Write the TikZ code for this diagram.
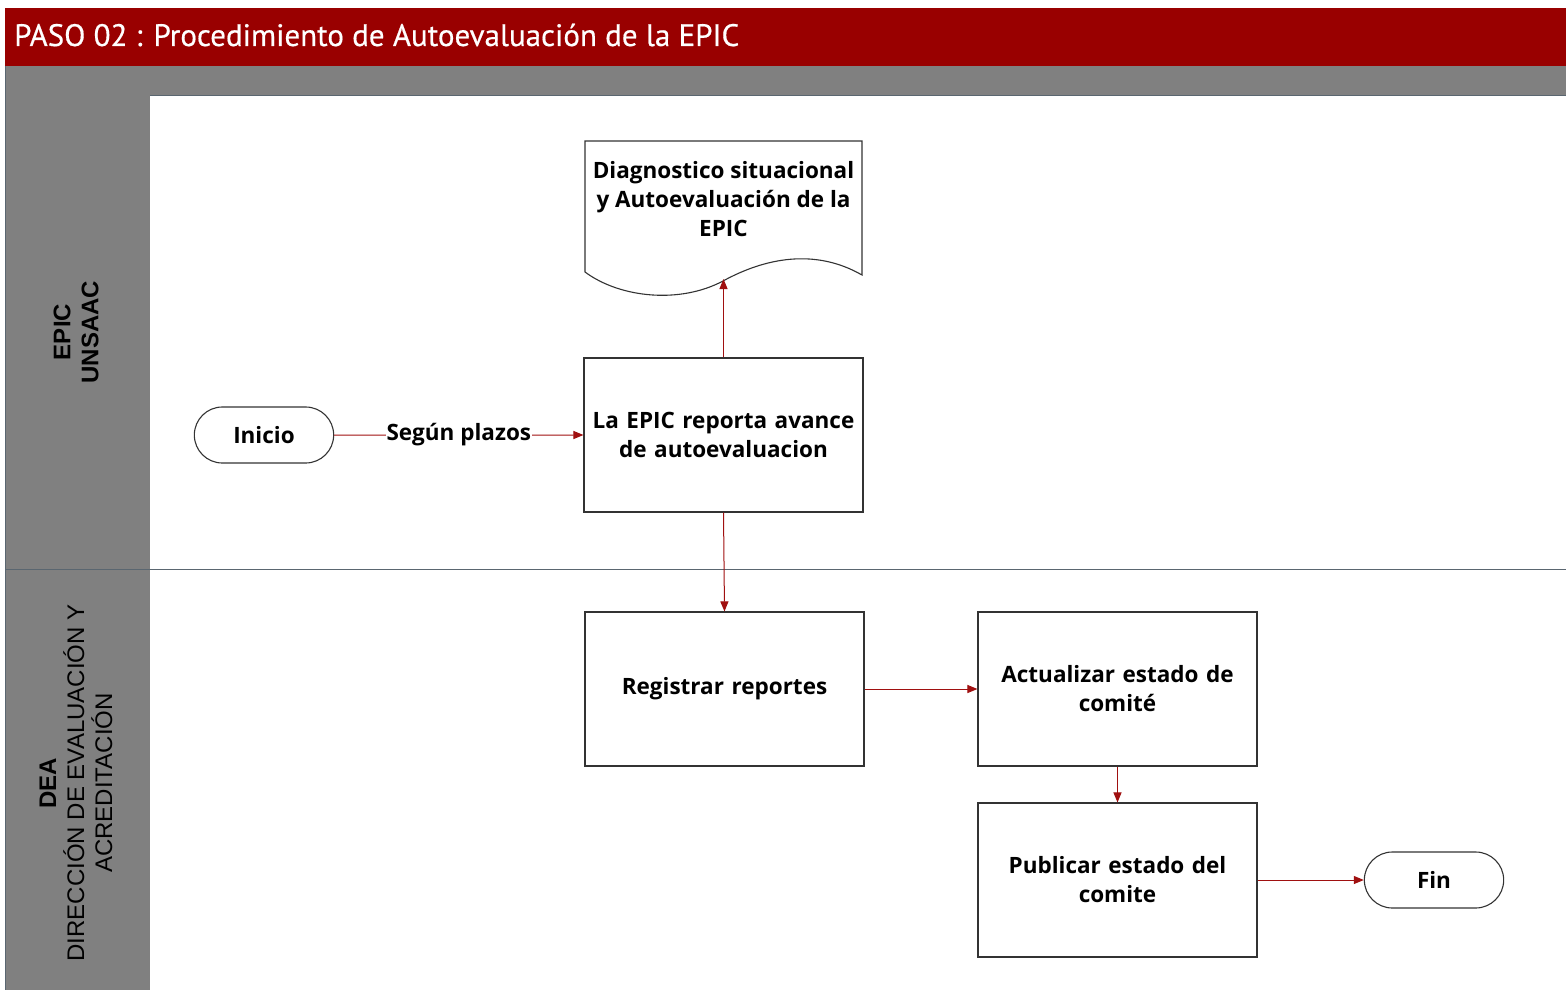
\documentclass[tikz,border=0pt]{standalone}
\usepackage{fontspec}
\setmainfont{Open Sans}
\newfontfamily\titlefont{PT Sans}[FakeBold=0.5]
\newfontfamily\lanefont{Liberation Sans}
\usetikzlibrary{arrows.meta,shapes.misc}
\definecolor{hdred}{HTML}{990000}
\definecolor{lanegray}{HTML}{808080}
\definecolor{arrred}{HTML}{A01010}
\definecolor{divline}{HTML}{5A6670}
\begin{document}
\begin{tikzpicture}[x=1pt,y=-1pt,
  procbox/.style={draw=black!80,line width=1.1pt,fill=white,minimum width=277pt,minimum height=154pt,
    align=center,font=\fontsize{22.5}{29}\selectfont\bfseries,inner sep=2pt,text width=275pt},
  term/.style={draw=black!80,line width=1.1pt,fill=white,rounded rectangle,minimum width=146pt,
    minimum height=56pt,font=\fontsize{22.5}{29}\selectfont\bfseries},
  flow/.style={draw=arrred,line width=1pt,-{Triangle[length=10pt,width=8pt]}},
  lanelabel/.style={rotate=90,align=center,font=\lanefont\fontsize{24}{28}\selectfont}]
\useasboundingbox (0,0) rectangle (1566,990);
\fill[white] (0,0) rectangle (1566,990);
% header
\fill[hdred] (5,8) rectangle (1566,66);
\node[anchor=base west,text=white,font=\titlefont\fontsize{31}{34}\selectfont,inner sep=0pt] (title) at (14,46) {PASO 02 : Procedimiento de Autoevaluación de la EPIC};
\fill[lanegray] (5,66) rectangle (1566,95);
\draw[divline,line width=1pt] (5,95.5) -- (1566,95.5);
% lane label column
\fill[lanegray] (5,95) rectangle (150,990);
\draw[divline,line width=1pt] (5,569.5) -- (1566,569.5);
\draw[divline,line width=0.8pt] (5.5,66) -- (5.5,990);
\node[lanelabel] (lane1) at (76,332) {\bfseries EPIC\\\bfseries UNSAAC};
\node[lanelabel] (lane2) at (76,783) {\bfseries DEA\\DIRECCIÓN DE EVALUACIÓN Y\\ACREDITACIÓN};
% document shape
\draw[black!80,line width=1.1pt,fill=white] (585,141) -- (862,141) -- (862,275)
  .. controls (815,248) and (765,258) .. (723,281)
  .. controls (680,304) and (620,298) .. (585,272) -- cycle;
\node[minimum width=277pt,inner sep=0pt,align=center,
  font=\fontsize{22.5}{29}\selectfont\bfseries] (doc) at (723.5,199) {Diagnostico situacional\\y Autoevaluación de la\\EPIC};
\coordinate (docb) at (723.5,279);
% nodes
\node[term] (inicio) at (264,435) {Inicio};
\node[procbox] (b1) at (723.5,435) {La EPIC reporta avance\\de autoevaluacion};
\node[procbox] (b2) at (724.5,689) {Registrar reportes};
\node[procbox] (b3) at (1117.5,689) {Actualizar estado de\\comité};
\node[procbox] (b4) at (1117.5,880) {Publicar estado del\\comite};
\node[term] (fin) at (1434,880) {Fin};
% connectors
\draw[flow] (inicio) -- node[fill=white,inner sep=1pt,font=\fontsize{22.5}{26}\selectfont\bfseries] (lbl) {Según plazos} (b1);
\draw[flow] (b1.north) -- (docb);
\draw[flow] (b1.south) -- (b2.north);
\draw[flow] (b2) -- (b3);
\draw[flow] (b3) -- (b4);
\draw[flow] (b4) -- (fin);
\end{tikzpicture}
\end{document}
